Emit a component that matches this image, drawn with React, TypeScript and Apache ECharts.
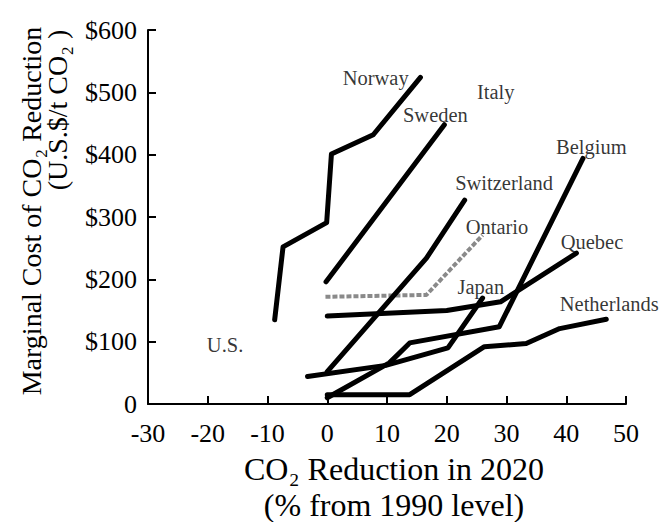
import React, { useEffect, useRef } from "react";
import * as echarts from "echarts";

// Axis ranges
const X_MIN = -30;
const X_MAX = 50;
const X_STEP = 10;
const Y_MIN = 0;
const Y_MAX = 600;
const Y_STEP = 100;

// Marginal cost curves: [CO2 reduction in 2020 (% from 1990), cost (US$/t CO2)]
const norway = [[-8.8, 135], [-7.4, 252], [-0.1, 291], [0.7, 401], [7.7, 432], [15.6, 524]];
const sweden = [[-0.2, 196], [19.6, 448]];
const switzerland = [[0, 52], [16.6, 234], [23, 327]];
const ontario = [[-0.3, 172], [16.6, 175], [26, 271]];
const quebec = [[0, 141], [20, 150], [29, 164], [41.7, 242]];
const belgium = [[0, 10], [10.4, 66], [13.8, 98], [28.8, 124], [42.8, 394]];
const japan = [[-3.3, 44], [9.8, 62], [20.2, 90], [26, 170]];
const netherlands = [[0, 15], [13.8, 15], [26.3, 92], [33.3, 97], [38.9, 121], [46.7, 136]];

// Country names placed beside the curves (data coordinates)
const labelNames = ["Norway", "Italy", "Sweden", "Belgium", "Switzerland", "Ontario", "Quebec", "Japan", "Netherlands", "U.S."];
const labelX = [8.1, 28.2, 18.1, 44.2, 29.6, 28.4, 44.3, 25.7, 47.2, -17.1];
const labelY = [523, 500, 464, 412, 355, 284, 260, 188, 161, 95];

const FONT = '"Liberation Serif", "Times New Roman", serif';

const curves = [
  { name: "Norway", data: norway },
  { name: "Sweden", data: sweden },
  { name: "Switzerland", data: switzerland },
  { name: "Ontario", data: ontario, hatched: true },
  { name: "Quebec", data: quebec },
  { name: "Belgium", data: belgium },
  { name: "Japan", data: japan },
  { name: "Netherlands", data: netherlands },
];

export default function App() {
  const ref = useRef<HTMLDivElement>(null);

  useEffect(() => {
    if (!ref.current) return;
    const chart = echarts.init(ref.current, undefined, { renderer: "svg" });

    const lineSeries = curves.map((c) => ({
      name: c.name,
      type: "line",
      data: c.data,
      symbol: "none",
      z: c.hatched ? 1 : 2,
      lineStyle: c.hatched
        ? { color: "#8a8a8a", width: 4, type: [5, 2] }
        : { color: "#000", width: 5, cap: "round", join: "round" },
    }));

    const labelSeries = {
      name: "labels",
      type: "scatter",
      symbol: "circle",
      symbolSize: 1,
      itemStyle: { color: "rgba(0,0,0,0)" },
      data: labelNames.map((n, i) => [labelX[i], labelY[i], n]),
      label: {
        show: true,
        position: "inside",
        formatter: (p: any) => p.data[2],
        color: "#000",
        fontSize: 20.5,
        fontFamily: FONT,
      },
      z: 5,
    };

    const titleStyle = (size: number) => ({
      fontSize: size,
      fontFamily: FONT,
      fill: "#000",
      align: "center",
      verticalAlign: "middle",
      textAlign: "center",
      textVerticalAlign: "middle",
    });

    chart.setOption({
      animation: false,
      backgroundColor: "#fff",
      grid: { left: 148, right: 37, top: 30, bottom: 118, containLabel: false },
      xAxis: {
        type: "value",
        min: X_MIN,
        max: X_MAX,
        interval: X_STEP,
        axisLine: { show: true, onZero: false, lineStyle: { color: "#000", width: 2 } },
        axisTick: { show: true, inside: true, length: 8, lineStyle: { color: "#000", width: 2 } },
        axisLabel: { color: "#000", fontSize: 26, fontFamily: FONT, margin: 16 },
        splitLine: { show: false },
      },
      yAxis: {
        type: "value",
        min: Y_MIN,
        max: Y_MAX,
        interval: Y_STEP,
        axisLine: { show: true, onZero: false, lineStyle: { color: "#000", width: 2 } },
        axisTick: { show: true, inside: true, length: 8, lineStyle: { color: "#000", width: 2 } },
        axisLabel: {
          color: "#000",
          fontSize: 26,
          fontFamily: FONT,
          margin: 11,
          formatter: (v: number) => (v === 0 ? "0" : "$" + v),
        },
        splitLine: { show: false },
      },
      series: [...lineSeries, labelSeries],
      graphic: [
        {
          type: "text",
          x: 31,
          y: 211,
          rotation: Math.PI / 2,
          style: { text: "Marginal Cost of CO\u2082 Reduction", ...titleStyle(28) },
        },
        {
          type: "text",
          x: 57,
          y: 110,
          rotation: Math.PI / 2,
          style: { text: "(U.S.$/t CO\u2082 )", ...titleStyle(28) },
        },
        {
          type: "text",
          x: 394,
          y: 469,
          style: { text: "CO\u2082 Reduction in 2020", ...titleStyle(32) },
        },
        {
          type: "text",
          x: 394,
          y: 505,
          style: { text: "(% from 1990 level)", ...titleStyle(32) },
        },
      ],
    });

    return () => chart.dispose();
  }, []);

  return (
    <div
      ref={ref}
      style={{ position: "fixed", left: 0, top: 0, width: 663, height: 522, background: "#fff" }}
    />
  );
}
